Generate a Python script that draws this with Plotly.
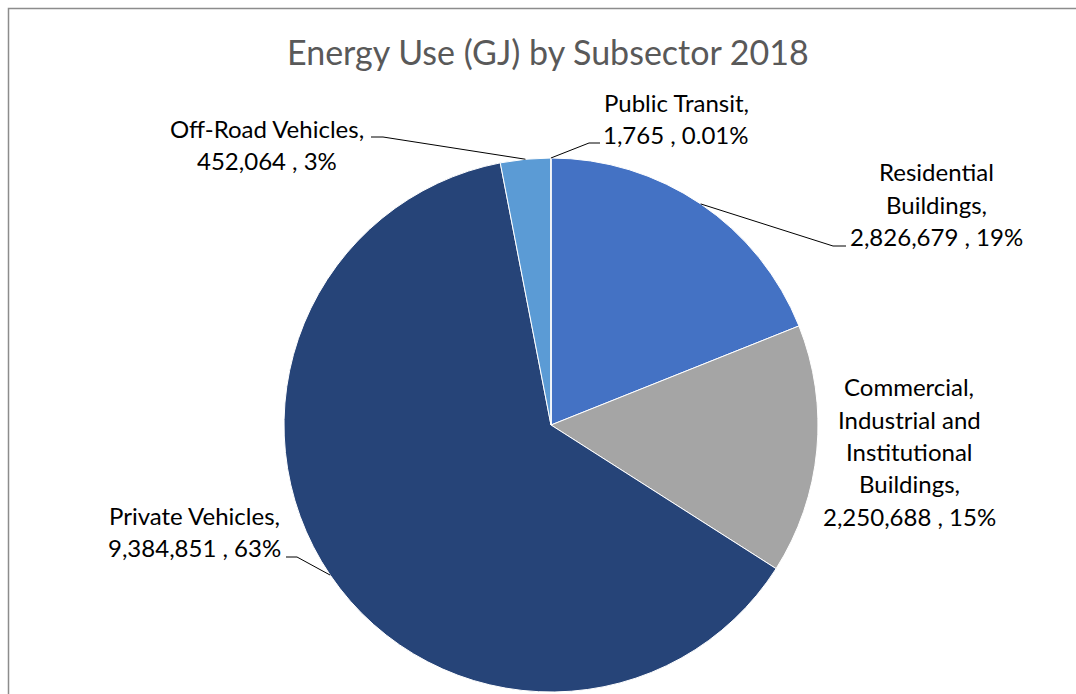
import math
import plotly.graph_objects as go

# Energy use by subsector, 2018 (GJ)
subsectors = [
    "Residential Buildings",
    "Commercial, Industrial and Institutional Buildings",
    "Private Vehicles",
    "Off-Road Vehicles",
    "Public Transit",
]
energy_gj = [2826679, 2250688, 9384851, 452064, 1765]
slice_colors = ["#4472C4", "#A5A5A5", "#264478", "#5B9BD5", "#9E480E"]

# How each category name wraps in its data label
name_lines = [
    ["Residential", "Buildings,"],
    ["Commercial,", "Industrial and", "Institutional", "Buildings,"],
    ["Private Vehicles,"],
    ["Off-Road Vehicles,"],
    ["Public Transit,"],
]

W, H = 1076, 694
FONT = "Lato"
LABEL_SIZE = 24
TITLE_SIZE = 34
LINE_STEP = 32.4

# pie placement in pixels
CX, CY, R = 551, 425, 267

# label block centre x and baseline of its first line (pixels)
label_pos = [
    (936, 181.0),
    (909, 396.0),
    (194, 524.3),
    (267, 137.7),
    (676, 111.7),
]
# leader line elbow: (elbow x, elbow y, end x) in pixels; None = no leader
leader_elbow = [
    (833, 246, 846),
    None,
    (297, 557, 286),
    (383, 137, 371),
    (589, 143, 600),
]


def px(x):
    return x / W


def py(y):
    return 1 - y / H


total = sum(energy_gj)


def pct_text(v):
    p = v / total * 100
    return f"{p:.2f}%" if p < 1 else f"{p:.0f}%"


fig = go.Figure(
    go.Pie(
        labels=subsectors,
        values=energy_gj,
        sort=False,
        direction="clockwise",
        rotation=0,
        textinfo="none",
        hoverinfo="label+value+percent",
        marker=dict(colors=slice_colors, line=dict(color="#FFFFFF", width=1)),
        domain=dict(x=[px(CX - R), px(CX + R)], y=[py(CY + R), py(CY - R)]),
        showlegend=False,
    )
)

annotations = []
shapes = []

cum = 0.0
for i, v in enumerate(energy_gj):
    frac = v / total
    mid = (cum + frac / 2) * 2 * math.pi
    cum += frac

    lines = name_lines[i] + [f"{v:,} , {pct_text(v)}"]
    cxl, base0 = label_pos[i]
    for k, t in enumerate(lines):
        base = base0 + k * LINE_STEP
        annotations.append(
            dict(
                text=t,
                x=px(cxl),
                y=py(base - 0.387 * LABEL_SIZE),
                xref="paper",
                yref="paper",
                xanchor="center",
                yanchor="middle",
                showarrow=False,
                font=dict(family=FONT, size=LABEL_SIZE, color="#000000"),
            )
        )

    if leader_elbow[i] is not None:
        ex, ey, endx = leader_elbow[i]
        sx = CX + R * math.sin(mid)
        sy = CY - R * math.cos(mid)
        shapes.append(
            dict(
                type="path",
                path=f"M {px(sx)} {py(sy)} L {px(ex)} {py(ey)} L {px(endx)} {py(ey)}",
                xref="paper",
                yref="paper",
                line=dict(color="#000000", width=1),
            )
        )

# chart area border
shapes.append(
    dict(
        type="rect",
        x0=px(8.5), x1=px(1090), y0=py(8.5), y1=py(710),
        xref="paper", yref="paper",
        line=dict(color="#8C8C8C", width=1.5),
        fillcolor="rgba(0,0,0,0)",
    )
)

# title
annotations.append(
    dict(
        text="Energy Use (GJ) by Subsector 2018",
        x=px(548),
        y=py(65 - 0.387 * TITLE_SIZE),
        xref="paper",
        yref="paper",
        xanchor="center",
        yanchor="middle",
        showarrow=False,
        font=dict(family=FONT, size=TITLE_SIZE, color="#595959"),
    )
)

fig.update_layout(
    width=W,
    height=H,
    margin=dict(l=0, r=0, t=0, b=0),
    paper_bgcolor="#FFFFFF",
    plot_bgcolor="#FFFFFF",
    annotations=annotations,
    shapes=shapes,
)

fig.write_html("out.html")
